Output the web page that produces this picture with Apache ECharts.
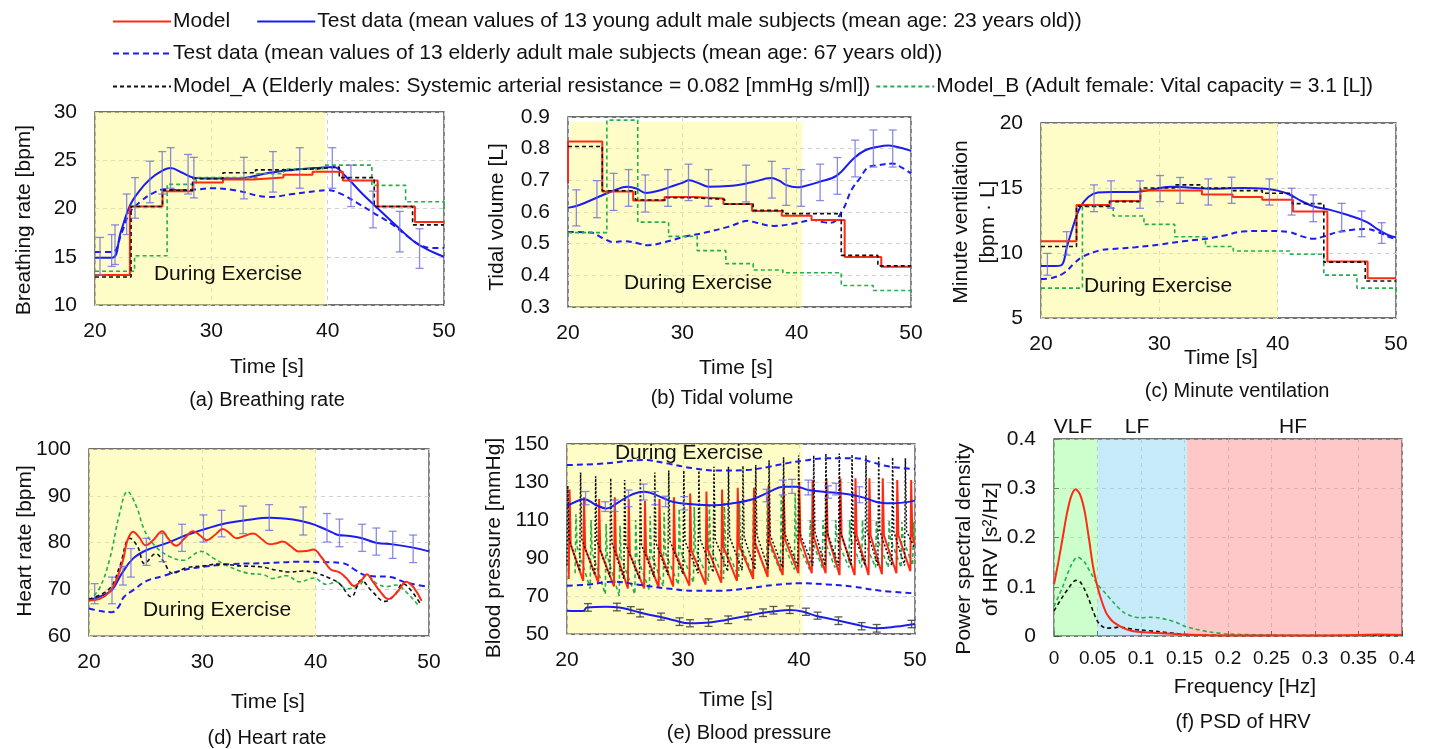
<!DOCTYPE html>
<html>
<head>
<meta charset="utf-8">
<script src="https://cdn.jsdelivr.net/npm/echarts@6/dist/echarts.min.js"></script>
<style>
html, body { margin: 0; padding: 0; background: #fff; }
#chart { width: 1429px; height: 749px; }
</style>
</head>
<body>
<div id="chart"></div>
<script>
const NAME_MODEL = 'Model';
const NAME_YOUNG = 'Test data (mean values of 13 young adult male subjects (mean age: 23 years old))';
const NAME_OLD = 'Test data (mean values of 13 elderly adult male subjects (mean age: 67 years old))';
const NAME_A = 'Model_A (Elderly males: Systemic arterial resistance = 0.082 [mmHg s/ml])';
const NAME_B = 'Model_B (Adult female: Vital capacity = 3.1 [L])';

// (a) breathing rate [bpm]
const aModel = [[20,13.1],[23,20.2],[25.8,21.8],[28.4,22.7],[31,23.0],[33.6,23.2],[36.2,23.5],[38.7,23.8],[41.3,22.9],[44.3,20.2],[47.5,18.6],[50,18.6]];
const aModelA = [[20,12.9],[23.1,20.2],[25.8,21.9],[28.4,23.1],[31,23.7],[33.8,24.0],[36.2,24.1],[39,24.3],[41,23.2],[44,20.2],[47.3,18.3],[50,18.3]];
const aModelB = [[20,13.5],[23.4,15.1],[26.2,22.5],[28.7,23.2],[33.9,23.6],[36.2,24.1],[39.6,24.5],[43.8,22.4],[46.7,20.7],[50,19.9]];
const aYoung = [[20,14.9],[21.5,14.9],[22.2,17.5],[23,20.3],[23.8,21.8],[24.7,23],[25.6,23.8],[26.5,24.2],[27.5,23.7],[28.5,23.2],[30,23.1],[32,23.1],[33,23.2],[35,23.7],[37,24.0],[39,24.2],[40.5,24.3],[41.5,23.4],[43,21.5],[44.5,19.8],[46,18.1],[47.5,16.5],[48.5,15.8],[50,15.0]];
const aYoungErr = [[20.43,13.1,17.0],[21.43,14.0,17.3],[21.72,14.2,18.3],[22.72,17.3,21.5],[23.44,19.0,23.2],[24.72,20.6,24.9],[25.78,21.5,25.9],[26.5,22.1,26.3],[28.0,21.5,25.6],[28.5,21.1,25.3],[32.8,21.0,25.3],[35.3,21.7,25.9],[37.6,22.1,26.3],[40.4,22.1,26.3],[42.0,20.2,24.5],[43.9,18.0,21.8],[46.2,15.5,19.7],[47.9,13.8,17.9]];
const aOld = [[20,15.5],[21.5,15.5],[22.3,17.5],[23,19.6],[24,20.8],[25,21.6],[26,22.0],[27.5,21.9],[29,22.0],[30,22.1],[32,21.9],[35,21.2],[37,21.5],[39,21.8],[40,21.9],[41,21.6],[42.5,20.6],[44,19.5],[45.5,18.4],[47,17.0],[48,16.2],[49,15.9],[50,15.9]];

// (b) tidal volume [L]
const bModel = [[20,0.69],[20,0.823],[23,0.665],[25.7,0.636],[28.45,0.647],[31,0.643],[33.6,0.625],[36.1,0.603],[38.7,0.588],[41.3,0.575],[44.2,0.458],[47.4,0.427],[50,0.427]];
const bModelA = [[20,0.807],[23,0.667],[25.9,0.638],[28.5,0.645],[31,0.64],[33.7,0.625],[36.2,0.605],[38.8,0.595],[43.9,0.463],[47.1,0.43],[50,0.43]];
const bModelB = [[20,0.535],[23.4,0.89],[26.1,0.568],[28.8,0.523],[31.3,0.478],[33.8,0.437],[36.2,0.417],[38.8,0.408],[43.9,0.368],[46.7,0.352],[50,0.335]];
const bYoung = [[20,0.613],[21,0.622],[22.5,0.645],[24,0.668],[25.2,0.68],[26,0.674],[26.8,0.66],[28,0.668],[29,0.68],[30,0.692],[30.6,0.7],[31.5,0.69],[32.3,0.68],[34,0.682],[36,0.693],[37.8,0.707],[38.5,0.698],[39.1,0.685],[40,0.678],[40.5,0.68],[42,0.695],[43.5,0.715],[45,0.77],[46,0.795],[47,0.805],[48,0.81],[48.8,0.805],[50,0.793]];
const bYoungErr = [[20.73,0.556,0.67],[22.53,0.582,0.699],[23.99,0.605,0.722],[25.3,0.618,0.734],[26.76,0.6,0.717],[28.74,0.618,0.734],[30.54,0.636,0.751],[32.29,0.618,0.734],[35.58,0.632,0.748],[37.83,0.644,0.76],[39.08,0.621,0.737],[40.39,0.618,0.734],[42.05,0.636,0.751],[43.56,0.656,0.772],[45.11,0.711,0.827],[46.71,0.742,0.859],[48.4,0.742,0.859]];
const bOld = [[20,0.537],[22,0.535],[23,0.518],[24,0.505],[25,0.508],[26,0.502],[27,0.495],[28.5,0.505],[30,0.52],[32,0.535],[34,0.553],[35.8,0.572],[36.5,0.566],[38,0.556],[40,0.565],[41.5,0.575],[42.3,0.568],[43,0.566],[44,0.605],[44.8,0.67],[45.5,0.705],[46.3,0.742],[47.2,0.748],[48.4,0.753],[49.2,0.74],[50,0.722]];

// (c) minute ventilation [bpm·L]
const cModel = [[20,10.9],[23,13.7],[25.8,14.0],[28.4,14.8],[33.6,14.5],[36.2,14.3],[38.7,14.1],[41.3,13.2],[44.2,9.35],[47.6,8.05],[50,8.05]];
const cModelA = [[20,10.5],[23,13.6],[25.8,13.95],[28.4,15.0],[31.3,15.24],[33.6,15.0],[36.1,14.8],[38.7,14.6],[41.2,13.8],[43.9,9.3],[47.4,7.85],[50,7.85]];
const cModelB = [[20,7.3],[23.5,13.57],[26.1,12.85],[28.7,12.2],[31.3,11.25],[33.9,10.5],[36.25,10.15],[41,9.9],[43.9,8.3],[46.7,7.3],[50,6.6]];
const cYoung = [[20,9.0],[21,9.0],[21.7,9.05],[22.2,10.5],[22.8,12.3],[23.3,13.5],[24,14.3],[24.8,14.65],[26,14.7],[28,14.7],[29.5,14.9],[31,15.1],[33,15.0],[35,14.95],[37,15.0],[39,14.95],[40,14.8],[41,14.5],[42,14.0],[43,13.6],[44.5,13.3],[46,12.9],[47.5,12.4],[48.5,11.8],[49.3,11.4],[50,11.2]];
const cYoungErr = [[20.54,8.29,9.97],[22.17,9.84,11.64],[24.48,13.18,15.24],[25.92,13.44,15.55],[28.37,13.44,15.55],[30.06,13.95,15.96],[31.75,13.82,15.81],[34.14,13.69,15.70],[36.11,13.82,15.83],[39.3,13.69,15.70],[41.18,12.92,14.98],[43.01,12.41,14.47],[45.41,11.64,13.82],[47.1,11.25,13.23],[48.79,10.74,12.33]];
const cOld = [[20,8.0],[21,8.1],[22,8.5],[22.8,9.2],[23.5,9.7],[25,10.2],[26,10.3],[28,10.45],[30,10.65],[32,10.9],[34,11.1],[35.5,11.35],[37,11.65],[39,11.7],[41,11.6],[42,11.3],[43,11.1],[44,11.3],[45,11.6],[46.5,11.8],[47.5,11.85],[48.5,11.6],[49.5,11.2],[50,11.1]];

// (d) heart rate [bpm]
const dModel = [[20,67.6],[20.9,67.9],[21.8,69.4],[22.4,71.9],[23.0,76.2],[23.4,80.5],[23.9,82.3],[24.4,81.2],[25.0,79.4],[25.7,80.6],[26.45,82.4],[27.0,80.8],[27.7,79.3],[28.4,80.8],[29.2,82.4],[29.8,81.5],[30.4,80.5],[31.1,81.6],[31.8,82.9],[32.4,82],[33.0,80.9],[33.7,81.4],[34.5,81.9],[35.2,80.8],[35.95,79.6],[36.5,79.8],[37.1,80.2],[37.8,79.2],[38.5,78.1],[39.2,78.2],[39.8,78.5],[40.5,76.9],[41.3,74.3],[42.1,73.6],[42.7,72.4],[43.4,70.7],[44.0,71.8],[44.5,73.2],[45.0,71.8],[45.7,69.5],[46.4,67.9],[47.2,69.4],[48.0,71.6],[48.7,70.2],[49.35,67.5]];
const dModelA = [[20,67.9],[21.8,70.1],[22.7,74.8],[23.6,80.9],[24.3,79.1],[24.9,75.5],[25.9,77.6],[26.5,76.2],[27.4,73.4],[28.6,74.6],[30.1,75],[31.5,75.4],[33.3,75],[35.1,74.8],[36.5,74.1],[37.7,73.7],[38.9,73.9],[40.1,73.4],[41.3,72.3],[42.1,71.2],[43.15,68.4],[44.0,71.9],[45.0,69.5],[46.1,67.4],[47.0,68.8],[47.7,71.2],[48.4,69.8],[49.2,67]];
const dModelB = [[20,67.6],[20.9,70.1],[21.8,76.2],[22.7,86.2],[23.4,90.9],[24.2,87.6],[24.9,82.6],[25.9,79.1],[27.1,77],[28.3,76.2],[29.9,78.1],[31,76.6],[32.4,74.8],[33.9,73.5],[35.4,73.1],[36.2,72.3],[37.4,72.9],[38.6,71.6],[39.8,72.4],[41,71],[41.8,71.6],[42.7,70.1],[43.9,70.9],[44.5,73],[45.4,71.2],[46.3,70.6],[47.1,70.9],[48.0,69.4],[49.1,66.4]];
const dYoung = [[20,67.6],[20.9,68.4],[22,69.8],[22.9,73.4],[23.9,76.6],[25.1,78.4],[26.8,79.8],[28.6,81.6],[30.4,83],[32.1,84.1],[33.9,84.8],[35.95,85.3],[38,84.9],[39.5,84.1],[40.7,83],[41.5,82.1],[42,81.6],[43,81.4],[44.1,80.9],[45.4,79.9],[46.8,79.6],[48.6,78.9],[50,78.1]];
const dYoungErr = [[20.5,66.9,71.2],[22.03,66.9,72.6],[23.0,70.9,74.9],[23.7,72.6,78.7],[25.06,75.1,80.9],[26.5,75.9,81.9],[28.2,78.1,83.9],[30.1,80.1,85.9],[31.7,81.2,86.9],[33.6,81.9,87.8],[35.9,82.6,88.1],[38.9,81.6,87.6],[41.0,80.1,86.2],[42.1,79.1,85],[44.1,78.1,83.9],[45.35,77.3,83.1],[46.8,76.6,82.4],[48.6,75.7,81.6]];
const dOld = [[20,65.9],[20.9,65.4],[22,65.1],[22.6,66.2],[23.1,68.4],[23.9,69.8],[25.1,71.8],[26.5,72.8],[28.3,74.1],[30.4,74.9],[32.7,75.4],[35.7,75.6],[38.6,75.9],[40.8,75.8],[42.4,75.6],[43.5,74.1],[44.5,72.9],[46.6,72.6],[48.0,71.4],[50,70.5]];

// (e) blood pressure [mmHg]; beats are [time, trough, peak, notch]
const eModelBeats = [[20.15,79,126,97],[21.4,78,122,95],[22.7,77,121,94],[24.05,75,122,93],[25.25,74,121,92],[26.65,74,120,92],[27.9,74.5,121,93],[29.15,75,122,93],[30.55,75.5,124,94],[31.95,76,125,95],[33.3,77,126,96],[34.65,78,127,97],[36.05,79,127,98],[37.3,80,128,99],[38.6,81,129,100],[39.95,82,130,100],[41.1,82,131,101],[42.3,82,132,102],[43.5,81,132,102],[44.8,81,132,102],[46.0,81,132,102],[47.15,81.5,132,102],[48.4,82,131,102],[49.6,83,131,102]];
const eModelEnd = [50, 97];
const eModelABeats = [[20.0,86,128,100],[21.1,83,135,100],[22.4,81,133,99],[23.7,80,132,98],[24.9,79,131,97],[26.25,79,132,97],[27.5,80,135,98],[28.7,81,136,99],[30.0,81.5,136,99],[31.3,82,137,100],[32.6,82.5,138,100],[33.85,83,138,101],[35.1,83.5,138.5,101],[36.2,84,139,102],[37.35,84.5,141.5,102],[38.6,85,143,103],[39.9,85.5,144,103],[41.2,86,144,104],[42.25,86,145,104],[43.4,86,145,104],[44.5,86,144.5,104],[45.7,86,144,104],[46.8,86,143.5,104],[48.0,86,143,104],[49.1,86,142.5,104]];
const eModelAEnd = [50, 95];
const eModelBBeats = [[20.7,82,113,96],[22.0,74,110,93],[23.3,71,108,91],[24.5,70,107,90],[25.85,71,110,91],[27.1,73,112,92],[28.3,75,114,93],[29.6,76,116,94],[30.9,77,117,95],[32.2,78,118,96],[33.5,79,119,96],[34.8,80,120,97],[36.0,81,121,98],[37.2,82,122,98],[38.4,83,123,99],[39.6,84,124,100],[40.9,84,110,100],[42.0,85,110,100],[43.1,85,110,100],[44.3,85,110,100],[45.4,85,110,100],[46.6,85,110,100],[47.7,85,110,100],[48.8,85,109,100],[49.8,86,109,100]];
const eModelBEnd = [50, 98];
const eYoungSys = [[20,117.4],[21.1,120.5],[21.5,120.9],[22.5,117.9],[23.4,116.1],[24.5,119.6],[25.7,123.7],[26.7,124.9],[28,122.3],[29.1,119.6],[30.6,118.4],[32.6,117.7],[34.3,118.8],[36,120.9],[37.5,124.9],[38.6,127.5],[39.8,127.5],[40.8,125.8],[42.1,124.9],[44.1,123.7],[45.5,121.9],[47,119.1],[48.1,118.8],[50,120.2]];
const eYoungSysErr = [[21.6,118,125],[23.3,114.5,119.6],[24.1,114.5,120.5],[25.3,117,125.8],[26.6,120.5,128.9],[27.6,118,125],[28.5,117,122.5],[30.1,115.3,122.3],[37.2,119.6,126.2],[38.6,123.2,131],[39.4,124,131.4],[40.8,123.2,131],[42.5,121.5,128],[43.2,123.2,129.3],[45.2,119.1,127.5]];
const eYoungDia = [[20,62.3],[21.4,62.1],[21.7,63.9],[23.4,64.4],[24.5,64.0],[25.7,62.3],[26.8,60.5],[28,59.1],[29.1,57.4],[30.6,55.6],[32.3,56],[33.7,57.4],[35.5,59.5],[36.9,61.2],[38.3,62.3],[39.2,62.6],[40.3,61.8],[41.5,59.5],[42.9,57.7],[44.7,55.3],[46.7,53],[48.4,53.9],[50,55.3]];
const eYoungDiaErr = [[21.8,62,66],[24.3,62.2,66.2],[25.5,60.8,64.4],[26.3,59,63],[28.1,57.3,61],[29.7,54.5,58.5],[30.6,53.8,57.5],[32.2,54,58],[33.9,55.5,59.5],[35.6,57.5,61.5],[36.9,59.2,63.2],[37.8,60.5,64.5],[39.2,60.8,64.8],[40.6,59.8,63.6],[41.6,57.8,61.5],[43.4,55,59],[45.4,52.2,56],[46.7,51,55],[49.7,53.3,57.2]];
const eOldSys = [[20,138.9],[23.4,139.8],[25.1,141],[26.55,141.6],[28.6,139.8],[30.9,137.2],[33.2,136],[35.5,136.3],[37.5,138.1],[39.2,140.2],[40.3,141.2],[42.4,142.5],[44.9,142.5],[46.4,140.2],[47.8,138.1],[50,136.8]];
const eOldDia = [[20,75.4],[21.95,76.1],[24,77.5],[26.3,75.8],[28.6,74],[30.9,72.8],[33.2,72.8],[35.5,74],[37.8,75.8],[40.1,76.7],[42.4,76.1],[44.7,74.9],[47,72.8],[50,71.4]];

// (f) PSD of HRV [s^2/Hz] vs frequency [Hz]
const fModel = [[0,0.105],[0.005,0.15],[0.01,0.2],[0.015,0.25],[0.02,0.285],[0.025,0.298],[0.03,0.287],[0.035,0.255],[0.04,0.2],[0.045,0.14],[0.05,0.1],[0.055,0.07],[0.06,0.047],[0.065,0.034],[0.07,0.026],[0.08,0.016],[0.09,0.01],[0.1,0.008],[0.12,0.006],[0.15,0.003],[0.2,0.001],[0.3,0.001],[0.35,0.002],[0.37,0.003],[0.4,0.002]];
const fModelA = [[0,0.051],[0.01,0.08],[0.02,0.105],[0.025,0.113],[0.03,0.11],[0.035,0.095],[0.04,0.075],[0.045,0.05],[0.05,0.03],[0.055,0.02],[0.06,0.016],[0.07,0.017],[0.075,0.018],[0.08,0.017],[0.09,0.014],[0.1,0.012],[0.12,0.009],[0.14,0.005],[0.15,0.003],[0.2,0.001],[0.4,0.001]];
const fModelB = [[0,0.06],[0.01,0.1],[0.02,0.145],[0.027,0.16],[0.035,0.15],[0.04,0.135],[0.045,0.12],[0.05,0.105],[0.06,0.085],[0.07,0.065],[0.08,0.048],[0.09,0.04],[0.1,0.037],[0.11,0.038],[0.12,0.037],[0.13,0.033],[0.14,0.028],[0.15,0.02],[0.16,0.015],[0.18,0.008],[0.2,0.004],[0.25,0.002],[0.3,0.001],[0.4,0.001]];
const fBands = [[0, 0.05, 'VLF'], [0.05, 0.153, 'LF'], [0.153, 0.4, 'HF']];

const FONT = 'Liberation Sans, Arial, sans-serif';
const RED = '#ff2a12', BLUE = '#1c1cf0', BLACK = '#111', GREEN = '#22b04a', ERR = 'rgba(110,110,225,0.8)';
const YELLOW = 'rgba(255,250,115,0.4)';
const BAND_COLORS = ['rgba(127,255,127,0.4)', 'rgba(118,205,242,0.4)', 'rgba(255,117,117,0.4)'];

const grids = [
  { left: 95, top: 112, width: 349, height: 193 },
  { left: 568, top: 117, width: 343, height: 190 },
  { left: 1041, top: 123, width: 355, height: 195 },
  { left: 89, top: 449, width: 340, height: 187 },
  { left: 567, top: 444, width: 348, height: 190 },
  { left: 1054, top: 439, width: 348, height: 197 }
];
const yRanges = [[10, 30, 5], [0.3, 0.9, 0.1], [5, 20, 5], [60, 100, 10], [50, 150, 20], [0, 0.4, 0.1]];

function beatLine(beats, end) {
  const pts = [];
  beats.forEach(([t, lo, hi, notch]) => {
    pts.push([t, lo], [t + 0.07, hi], [t + 0.17, notch]);
  });
  pts.push(end);
  return pts;
}

function errBars(color) {
  return (params, api) => {
    const x = api.value(0);
    const lo = api.coord([x, api.value(1)]);
    const hi = api.coord([x, api.value(2)]);
    const w = 4;
    const style = { stroke: color, lineWidth: 1.3, fill: null };
    return {
      type: 'group',
      children: [
        { type: 'line', shape: { x1: lo[0], y1: lo[1], x2: hi[0], y2: hi[1] }, style },
        { type: 'line', shape: { x1: lo[0] - w, y1: lo[1], x2: lo[0] + w, y2: lo[1] }, style },
        { type: 'line', shape: { x1: hi[0] - w, y1: hi[1], x2: hi[0] + w, y2: hi[1] }, style }
      ]
    };
  };
}

const series = [];
function line(i, name, data, kind, extra) {
  const styles = {
    model: { color: RED, width: 2, type: 'solid' },
    young: { color: BLUE, width: 2, type: 'solid' },
    old: { color: BLUE, width: 2, type: [6, 4] },
    a: { color: BLACK, width: 1.6, type: [4, 3] },
    b: { color: GREEN, width: 1.6, type: [4, 3] }
  };
  const s = styles[kind];
  series.push(Object.assign({
    type: 'line', name, data, xAxisIndex: i, yAxisIndex: i,
    symbol: 'none', z: 2, silent: true,
    lineStyle: { color: s.color, width: s.width, type: s.type },
    itemStyle: { color: s.color }
  }, extra || {}));
}
function err(i, data, color) {
  series.push({
    type: 'custom', xAxisIndex: i, yAxisIndex: i, data, z: 3, silent: true,
    encode: { x: 0, y: [1, 2] }, renderItem: errBars(color)
  });
}
function shade(i, areas) {
  series.push({
    type: 'line', data: [], xAxisIndex: i, yAxisIndex: i, z: 1, silent: true,
    markArea: { silent: true, data: areas }
  });
}

// (a)
shade(0, [[{ xAxis: 20, yAxis: 10, itemStyle: { color: YELLOW } }, { xAxis: 39.8, yAxis: 30 }]]);
line(0, NAME_OLD, aOld, 'old', { smooth: 0.4 });
line(0, NAME_YOUNG, aYoung, 'young', { smooth: 0.4 });
line(0, NAME_B, aModelB, 'b', { step: 'end' });
line(0, NAME_MODEL, aModel, 'model', { step: 'end' });
line(0, NAME_A, aModelA, 'a', { step: 'end' });
err(0, aYoungErr, ERR);
// (b)
shade(1, [[{ xAxis: 20.2, yAxis: 0.3, itemStyle: { color: YELLOW } }, { xAxis: 40.5, yAxis: 0.885 }]]);
line(1, NAME_OLD, bOld, 'old', { smooth: 0.4 });
line(1, NAME_YOUNG, bYoung, 'young', { smooth: 0.4 });
line(1, NAME_B, bModelB, 'b', { step: 'end' });
line(1, NAME_MODEL, bModel, 'model', { step: 'end' });
line(1, NAME_A, bModelA, 'a', { step: 'end' });
err(1, bYoungErr, ERR);
// (c)
shade(2, [[{ xAxis: 20, yAxis: 5, itemStyle: { color: YELLOW } }, { xAxis: 40, yAxis: 20 }]]);
line(2, NAME_OLD, cOld, 'old', { smooth: 0.4 });
line(2, NAME_YOUNG, cYoung, 'young', { smooth: 0.4 });
line(2, NAME_B, cModelB, 'b', { step: 'end' });
line(2, NAME_MODEL, cModel, 'model', { step: 'end' });
line(2, NAME_A, cModelA, 'a', { step: 'end' });
err(2, cYoungErr, ERR);
// (d)
shade(3, [[{ xAxis: 20, yAxis: 60, itemStyle: { color: YELLOW } }, { xAxis: 40, yAxis: 100 }]]);
line(3, NAME_OLD, dOld, 'old', { smooth: 0.4 });
line(3, NAME_YOUNG, dYoung, 'young', { smooth: 0.4 });
line(3, NAME_B, dModelB, 'b', { smooth: 0.4 });
line(3, NAME_A, dModelA, 'a', { smooth: 0.4 });
line(3, NAME_MODEL, dModel, 'model', { smooth: 0.4 });
err(3, dYoungErr, ERR);
// (e)
shade(4, [[{ xAxis: 20, yAxis: 50, itemStyle: { color: YELLOW } }, { xAxis: 40.3, yAxis: 150 }]]);
line(4, NAME_B, beatLine(eModelBBeats, eModelBEnd), 'b');
line(4, NAME_MODEL, beatLine(eModelBeats, eModelEnd), 'model');
line(4, NAME_A, beatLine(eModelABeats, eModelAEnd), 'a', { lineStyle: { color: BLACK, width: 1.5, type: [2, 2] } });
line(4, NAME_OLD, eOldSys, 'old', { smooth: 0.4 });
line(4, NAME_OLD, eOldDia, 'old', { smooth: 0.4 });
line(4, NAME_YOUNG, eYoungSys, 'young', { smooth: 0.4 });
line(4, NAME_YOUNG, eYoungDia, 'young', { smooth: 0.4 });
err(4, eYoungSysErr, ERR);
err(4, eYoungDiaErr, 'rgba(60,60,60,0.85)');
// (f)
shade(5, fBands.map((b, k) => [
  { xAxis: b[0], yAxis: 0, itemStyle: { color: BAND_COLORS[k] } },
  { xAxis: b[1], yAxis: 0.4 }
]));
line(5, NAME_B, fModelB, 'b', { smooth: 0.3 });
line(5, NAME_A, fModelA, 'a', { smooth: 0.3 });
line(5, NAME_MODEL, fModel, 'model', { smooth: 0.3 });

const splitLine = { show: true, lineStyle: { color: '#cfcfcf', type: [4, 4], width: 1 } };
const labelStyle = { fontFamily: FONT, fontSize: 21, color: '#111' };

const xAxis = grids.map((g, i) => ({
  type: 'value', gridIndex: i,
  min: i === 5 ? 0 : 20, max: i === 5 ? 0.4 : 50, interval: i === 5 ? 0.05 : 10,
  axisLine: { show: false },
  axisTick: i === 5 ? { show: true, inside: true, length: 5, lineStyle: { color: '#444' } } : { show: false },
  axisLabel: Object.assign({ margin: i === 5 ? 13 : 16 }, labelStyle, i === 5 ? { fontSize: 19 } : {}),
  splitLine
}));
const yAxis = grids.map((g, i) => ({
  type: 'value', gridIndex: i,
  min: yRanges[i][0], max: yRanges[i][1], interval: yRanges[i][2],
  axisLine: { show: false },
  axisTick: i === 5 ? { show: true, inside: true, length: 5, lineStyle: { color: '#444' } } : { show: false },
  axisLabel: Object.assign({ margin: 18 }, labelStyle),
  splitLine
}));

function text(x, y, str, opts) {
  return Object.assign({
    type: 'text', x, y, silent: true, z: 10,
    style: Object.assign({
      text: str, font: '21px ' + FONT, fill: '#111',
      align: 'center', verticalAlign: 'middle', textAlign: 'center', textVerticalAlign: 'middle'
    }, (opts && opts.style) || {})
  }, opts && opts.rotation ? { rotation: opts.rotation } : {});
}
const V = { rotation: Math.PI / 2 };
const CAP = { style: { font: '20px ' + FONT } };
const graphic = [
  // y-axis names
  text(24, 220, 'Breathing rate [bpm]', V),
  text(497, 217, 'Tidal volume [L]', V),
  text(975, 222, 'Minute ventilation\n[bpm · L]', { rotation: Math.PI / 2, style: { lineHeight: 27 } }),
  text(25, 541, 'Heart rate [bpm]', V),
  text(494, 548, 'Blood pressure [mmHg]', V),
  text(978, 549, 'Power spectral density\nof HRV [s²/Hz]', { rotation: Math.PI / 2, style: { lineHeight: 27 } }),
  // x-axis names
  text(267, 367, 'Time [s]'),
  text(736, 368, 'Time [s]'),
  text(1221, 358, 'Time [s]'),
  text(268, 702, 'Time [s]'),
  text(736, 700, 'Time [s]'),
  text(1245, 687, 'Frequency [Hz]'),
  // captions
  text(267, 400, '(a) Breathing rate', CAP),
  text(722, 398, '(b) Tidal volume', CAP),
  text(1237, 391, '(c) Minute ventilation', CAP),
  text(267, 738, '(d) Heart rate', CAP),
  text(749, 733, '(e) Blood pressure', CAP),
  text(1243, 722, '(f) PSD of HRV', CAP),
  // annotations
  text(228, 274, 'During Exercise'),
  text(698, 283, 'During Exercise'),
  text(1158, 286, 'During Exercise'),
  text(217, 610, 'During Exercise'),
  text(689, 453, 'During Exercise'),
  text(1073, 427, fBands[0][2]),
  text(1137, 427, fBands[1][2]),
  text(1293, 427, fBands[2][2])
];

const legendBase = {
  left: 112, padding: 0, itemWidth: 58, itemHeight: 14, selectedMode: false,
  itemStyle: { opacity: 0 },
  textStyle: { fontFamily: FONT, fontSize: 21, color: '#111', padding: [0, 0, 0, -3] }
};
const legend = [
  Object.assign({}, legendBase, { top: 11, itemGap: 26, data: [NAME_MODEL, NAME_YOUNG] }),
  Object.assign({}, legendBase, { top: 43, data: [NAME_OLD] }),
  Object.assign({}, legendBase, { top: 76, itemGap: 5, data: [NAME_A, NAME_B] })
];

const chart = echarts.init(document.getElementById('chart'), null, { renderer: 'canvas' });
chart.setOption({
  animation: false,
  backgroundColor: '#fff',
  textStyle: { fontFamily: FONT },
  grid: grids.map(g => Object.assign({ show: true, borderColor: '#444', borderWidth: 1.3, backgroundColor: 'transparent' }, g)),
  xAxis, yAxis, legend, series, graphic
});
</script>
</body>
</html>
